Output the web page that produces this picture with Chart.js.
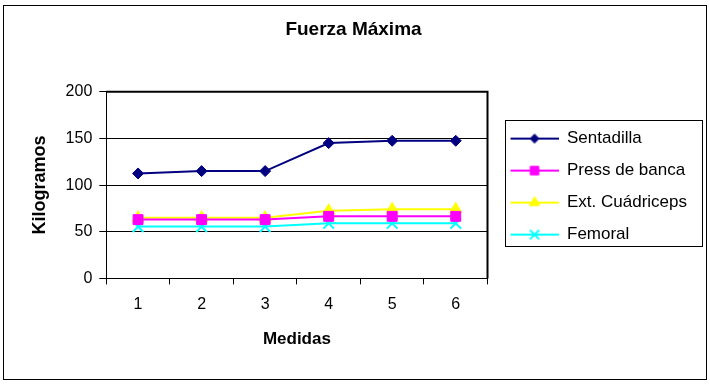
<!DOCTYPE html>
<html>
<head>
<meta charset="utf-8">
<script src="https://cdn.jsdelivr.net/npm/chart.js@4/dist/chart.umd.min.js"></script>
<style>
  html, body { margin: 0; padding: 0; background: #fff; }
  #wrap { position: relative; width: 710px; height: 384px; }
</style>
</head>
<body>
<div id="wrap"><canvas id="myChart" width="710" height="384"></canvas></div>
<script>
const medidas = ['1', '2', '3', '4', '5', '6'];
const sentadilla = [112.5, 115, 115, 145, 147.5, 147.5];
const pressBanca = [63, 63, 63, 66.5, 66.5, 66.5];
const extCuadriceps = [65, 65, 65, 72.5, 74, 74];
const femoral = [55.5, 55.5, 55.5, 59, 59, 59];
const yTicks = [0, 50, 100, 150, 200];

const FONT = 'Liberation Sans, Arial, sans-serif';

// small line + marker picture for each legend entry (8px empty on the left)
function legendIcon(color, style, radius, width) {
  const c = document.createElement('canvas');
  c.width = 56;
  c.height = 16;
  const ctx = c.getContext('2d');
  ctx.strokeStyle = color;
  ctx.fillStyle = color;
  ctx.lineWidth = 2;
  ctx.beginPath();
  ctx.moveTo(8, 8);
  ctx.lineTo(56, 8);
  ctx.stroke();
  ctx.lineWidth = width;
  Chart.helpers.drawPoint(ctx, {
    pointStyle: style, radius: radius, borderWidth: width, rotation: 0
  }, 32, 8);
  return c;
}

const series = [
  { label: 'Sentadilla', data: sentadilla, color: '#000080', style: 'rectRot', r: 5.5, bw: 1 },
  { label: 'Press de banca', data: pressBanca, color: '#FF00FF', style: 'rect', r: 7, bw: 1 },
  { label: 'Ext. Cuádriceps', data: extCuadriceps, color: '#FFFF00', style: 'triangle', r: 7, bw: 1 },
  { label: 'Femoral', data: femoral, color: '#00FFFF', style: 'crossRot', r: 7.5, bw: 2 }
];

const frame = {
  id: 'frame',
  beforeDraw(chart) {
    const ctx = chart.ctx;
    ctx.save();
    ctx.strokeStyle = '#000';
    ctx.lineWidth = 1;
    ctx.strokeRect(3.5, 5.5, 703, 374);
    ctx.restore();
  },
  beforeDatasetsDraw(chart) {
    const a = chart.chartArea;
    const ctx = chart.ctx;
    ctx.save();
    ctx.strokeStyle = '#000';
    ctx.lineWidth = 2;
    ctx.beginPath();
    ctx.moveTo(a.left, a.top);
    ctx.lineTo(a.right, a.top);
    ctx.lineTo(a.right, a.bottom);
    ctx.stroke();
    ctx.restore();
  },
  afterDraw(chart) {
    const boxes = chart.legend.legendHitBoxes;
    if (!boxes || !boxes.length) return;
    const first = boxes[0];
    const last = boxes[boxes.length - 1];
    const ctx = chart.ctx;
    ctx.save();
    ctx.strokeStyle = '#000';
    ctx.lineWidth = 1;
    const left = Math.round(first.left + 2) + 0.5;
    const top = Math.round(first.top - 10) + 0.5;
    const bottom = Math.round(last.top + last.height + 3) + 0.5;
    ctx.strokeRect(left, top, 702.5 - left, bottom - top);
    ctx.restore();
  }
};

new Chart(document.getElementById('myChart'), {
  type: 'line',
  data: {
    labels: medidas,
    datasets: series.map(s => ({
      label: s.label,
      data: s.data,
      borderColor: s.color,
      backgroundColor: s.color,
      borderWidth: 2,
      pointStyle: s.style,
      pointRadius: s.r,
      pointBorderWidth: s.bw,
      tension: 0,
      fill: false
    }))
  },
  options: {
    responsive: false,
    animation: false,
    layout: { padding: { left: 10, right: 13, top: 0, bottom: 34 } },
    plugins: {
      title: {
        display: true,
        text: 'Fuerza Máxima',
        color: '#000',
        font: { family: FONT, size: 19, weight: 'bold' },
        padding: { top: 18, bottom: 51 }
      },
      legend: {
        position: 'right',
        maxWidth: 300,
        // empty title only pushes the entries down a little
        title: { display: true, text: '', font: { size: 1 }, padding: { top: 11, bottom: 11 } },
        labels: {
          color: '#000',
          font: { family: FONT, size: 17 },
          usePointStyle: true,
          pointStyleWidth: 56,
          padding: 15,
          generateLabels(chart) {
            return series.map((s, i) => ({
              text: s.label,
              pointStyle: legendIcon(s.color, s.style, s.r - 1, s.bw),
              fillStyle: s.color,
              strokeStyle: s.color,
              lineWidth: 0,
              hidden: false,
              datasetIndex: i,
              fontColor: '#000'
            }));
          }
        }
      },
      tooltip: { enabled: false }
    },
    scales: {
      x: {
        offset: true,
        grid: { offset: true, drawOnChartArea: false, color: '#000', tickLength: 6 },
        border: { color: '#000', width: 1 },
        ticks: { color: '#000', padding: 11, font: { family: FONT, size: 16 } },
        title: {
          display: true,
          text: 'Medidas',
          color: '#000',
          font: { family: FONT, size: 17, weight: 'bold' },
          padding: { top: 4, bottom: 0 }
        }
      },
      y: {
        min: 0,
        max: 200,
        afterBuildTicks(axis) {
          axis.ticks = yTicks.map(v => ({ value: v }));
        },
        grid: { color: '#000', tickLength: 7 },
        border: { color: '#000', width: 1 },
        ticks: { color: '#000', padding: 7, font: { family: FONT, size: 16 } },
        title: {
          display: true,
          text: 'Kilogramos',
          color: '#000',
          font: { family: FONT, size: 18, weight: 'bold' },
          padding: { top: 19, bottom: 8 }
        }
      }
    }
  },
  plugins: [frame]
});
</script>
</body>
</html>
